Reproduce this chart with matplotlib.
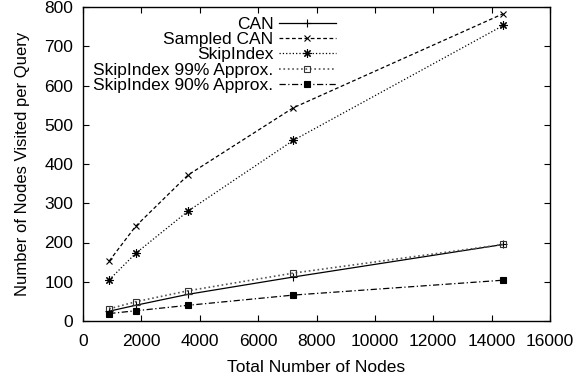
import matplotlib
matplotlib.use("Agg")
import matplotlib.pyplot as plt

plt.rcParams['font.family'] = ['Liberation Sans', 'DejaVu Sans']

nodes = [900, 1800, 3600, 7200, 14400]
can = [25, 40, 68, 112, 195]
sampled_can = [153, 241, 372, 543, 783]
skipindex = [105, 172, 280, 460, 753]
skip99 = [31, 49, 77, 122, 195]
skip90 = [19, 26, 40, 66, 104]

fig = plt.figure(figsize=(5.85, 3.77), dpi=100)
ax = fig.add_axes([83/585, 56/377, (550-83)/585, (321-7)/377])

lw = 0.9
ax.plot(nodes, can, '-', color='black', lw=lw, marker='+', ms=6, mew=0.8, label='CAN')
ax.plot(nodes, sampled_can, '--', color='black', lw=lw, marker='x', ms=5, mew=0.8,
        dashes=(3, 2), label='Sampled CAN')
ax.plot(nodes, skipindex, ':', color='black', lw=lw, marker=(8, 2, 0), ms=6, mew=0.8,
        label='SkipIndex')
ax.plot(nodes, skip99, ':', color='#555555', lw=1.2, marker='s', ms=5, mew=0.8,
        mfc='none', mec='#333333', label='SkipIndex 99% Approx.')
ax.plot(nodes, skip90, '-.', color='black', lw=lw, marker='s', ms=5, mew=0.8,
        mfc='black', dashes=(5, 2, 1, 2), label='SkipIndex 90% Approx.')

ax.set_xlim(0, 16000)
ax.set_ylim(0, 800)
ax.set_xticks(range(0, 16001, 2000))
ax.set_yticks(range(0, 801, 100))
ax.tick_params(axis='both', direction='in', top=True, right=True, labelsize=12.5,
               length=4, width=0.8)
ax.tick_params(axis='x', pad=9)
ax.tick_params(axis='y', pad=7)
for s in ax.spines.values():
    s.set_linewidth(1.0)
ax.set_xlabel('Total Number of Nodes', fontsize=12.5, labelpad=8)
ax.set_ylabel('Number of Nodes Visited per Query', fontsize=12, labelpad=10)

leg = ax.legend(loc='upper right', bbox_to_anchor=((336-83)/467, 1 - (17-7)/314),
                frameon=False, fontsize=12.5, markerfirst=False, handlelength=3.3,
                handletextpad=0.3, labelspacing=0.0, borderaxespad=0.0, borderpad=0.0)
for t in leg.get_texts():
    t.set_ha('right')
leg._legend_box.align = 'right'

fig.savefig('out.png', dpi=100)
